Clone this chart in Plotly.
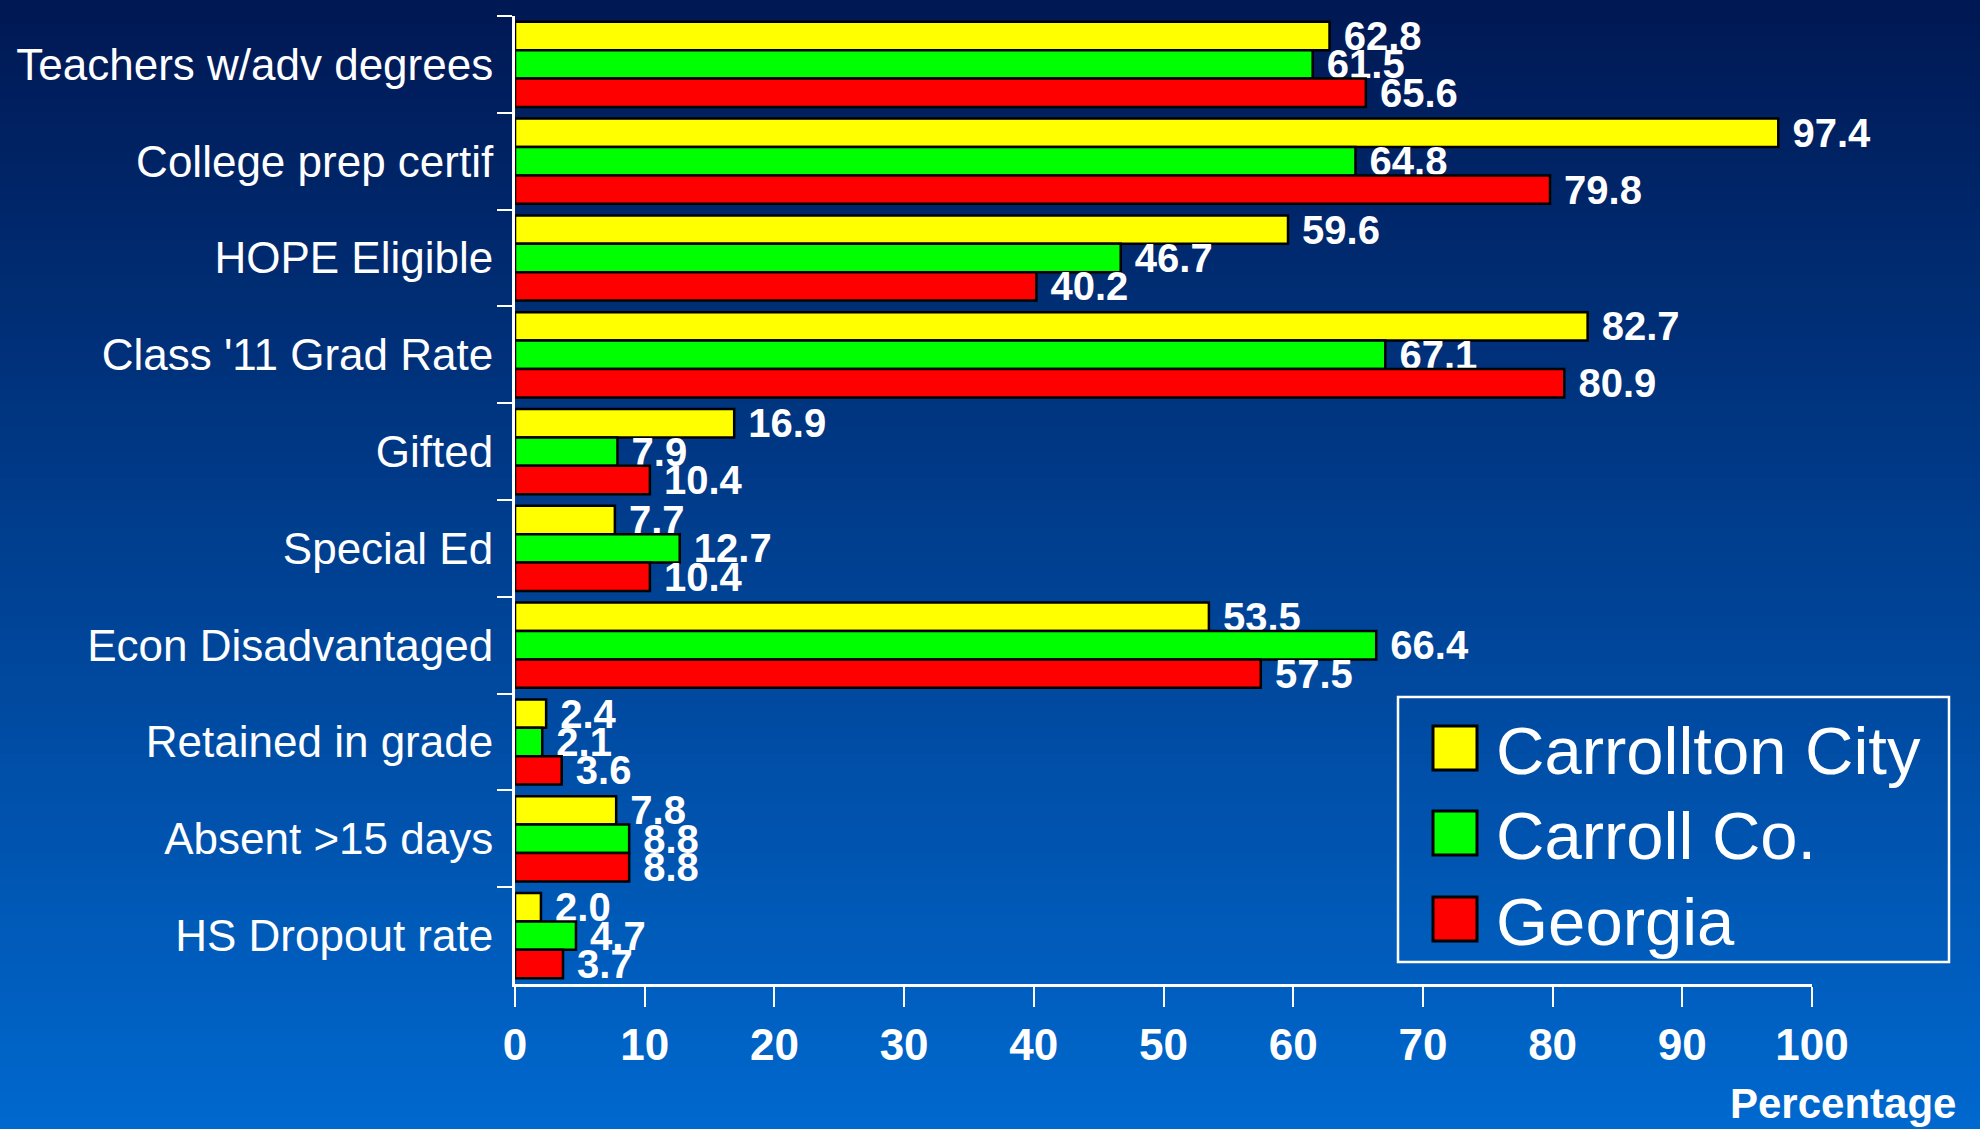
import plotly.graph_objects as go

categories = ["Teachers w/adv degrees", "College prep certif", "HOPE Eligible",
              "Class '11 Grad Rate", "Gifted", "Special Ed", "Econ Disadvantaged",
              "Retained in grade", "Absent >15 days", "HS Dropout rate"]
series_names = ["Carrollton City", "Carroll Co.", "Georgia"]
carrollton_city = [62.8, 97.4, 59.6, 82.7, 16.9, 7.7, 53.5, 2.4, 7.8, 2.0]
carroll_co = [61.5, 64.8, 46.7, 67.1, 7.9, 12.7, 66.4, 2.1, 8.8, 4.7]
georgia = [65.6, 79.8, 40.2, 80.9, 10.4, 10.4, 57.5, 3.6, 8.8, 3.7]
series_values = [carrollton_city, carroll_co, georgia]
series_colors = ["#ffff00", "#00ff00", "#ff0000"]
x_ticks = [0, 10, 20, 30, 40, 50, 60, 70, 80, 90, 100]

SANS = "Liberation Sans, Arial, sans-serif"

fig = go.Figure()
for name, vals, col in zip(series_names, series_values, series_colors):
    fig.add_trace(go.Bar(
        y=categories, x=vals, name=name, orientation="h",
        marker=dict(color=col, line=dict(color="black", width=2.5)),
        texttemplate="\u00a0%{x:.1f}", textposition="outside",
        textfont=dict(family=SANS, size=40, color="white", weight="bold"),
        constraintext="none", cliponaxis=False, showlegend=False,
    ))

W, H = 1980, 1129
L, R, T, B = 515, 168, 16, 145
pw, ph = W - L - R, H - T - B
def px(x):
    return (x - L) / pw
def py(y):
    return (H - B - y) / ph

top = (0, 24, 84)
bot = (0, 104, 206)
shapes = []
n = 90
for i in range(n):
    f = i / (n - 1)
    c = tuple(int(round(top[k] + (bot[k] - top[k]) * f)) for k in range(3))
    y0 = i * H / n
    y1 = (i + 1) * H / n + 1
    shapes.append(dict(type="rect", xref="paper", yref="paper", layer="below",
                       x0=-1, x1=2,
                       y0=py(y1 + (30 if i == n - 1 else 0)),
                       y1=py(y0 - (30 if i == 0 else 0)),
                       line=dict(width=0), fillcolor="rgb(%d,%d,%d)" % c))

# custom legend
shapes.append(dict(type="rect", xref="paper", yref="paper", layer="above",
                   x0=px(1398), x1=px(1949), y0=py(962), y1=py(697),
                   line=dict(color="white", width=2.5), fillcolor="rgba(0,0,0,0)"))
annotations = []
centers = [748, 833, 919]
for name, col, cy in zip(series_names, series_colors, centers):
    shapes.append(dict(type="rect", xref="paper", yref="paper", layer="above",
                       x0=px(1433), x1=px(1477), y0=py(cy + 22), y1=py(cy - 22),
                       line=dict(color="black", width=3), fillcolor=col))
    annotations.append(dict(xref="paper", yref="paper", x=px(1494), y=py(cy + 2),
                            xanchor="left", yanchor="middle", text=name, showarrow=False,
                            font=dict(family=SANS, size=67, color="white")))

annotations.append(dict(xref="paper", yref="paper", x=px(1958), y=py(1103),
                        xanchor="right", yanchor="middle", text="Percentage", showarrow=False,
                        font=dict(family=SANS, size=42, color="white", weight="bold")))

fig.update_layout(
    width=W, height=H,
    margin=dict(l=L, r=R, t=T, b=B, pad=0, autoexpand=False),
    barmode="group", bargap=0.12, bargroupgap=0,
    paper_bgcolor="#003c8c", plot_bgcolor="rgba(0,0,0,0)",
    shapes=shapes, annotations=annotations,
    xaxis=dict(range=[0, 100], tickvals=x_ticks, showgrid=False, zeroline=False,
               automargin=False,
               showline=True, linecolor="white", linewidth=3,
               ticks="outside", ticklen=20, tickwidth=2, tickcolor="white",
               ticklabelstandoff=0,
               tickfont=dict(family=SANS, size=44, color="white", weight="bold")),
    yaxis=dict(type="category", autorange="reversed", showgrid=False,
               automargin=False,
               showline=True, linecolor="white", linewidth=3,
               ticks="outside", tickson="boundaries", ticklen=15, tickwidth=2,
               tickcolor="white", ticklabelstandoff=10,
               tickfont=dict(family=SANS, size=44, color="white")),
)

fig.write_html(
    "out.html",
    config={"displayModeBar": False},
    post_script="document.body.style.margin='0';document.body.style.overflow='hidden';"
                "document.body.style.background='linear-gradient(#001854,#0068ce)';",
)
